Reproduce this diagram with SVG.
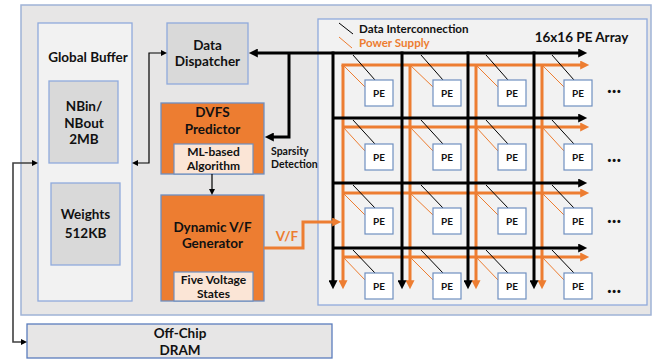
<svg xmlns="http://www.w3.org/2000/svg" width="657" height="360" viewBox="0 0 657 360">
  <style>
    text { font-family: Lato, "Liberation Sans", sans-serif; font-weight: 700; fill: #111; text-anchor: middle; }
    .t13 { font-size: 13.5px; }
    .t11 { font-size: 12px; }
    .t10 { font-size: 10.5px; }
    .leg { font-size: 11.6px; }
    .pe-t { font-size: 10px; }
    .dots { font-size: 20px; }
    .orange-t { fill: #ed7d31; }
    .left { text-anchor: start; }
    .box-frame { fill: #e7e6e6; stroke: #9fb3d6; stroke-width: 1.5; }
    .box-light { fill: #f2f2f2; stroke: #8faadc; stroke-width: 1.3; }
    .box-gray { fill: #d9d9d9; stroke: #8faadc; stroke-width: 1.3; }
    .box-orange { fill: #ed7d31; stroke: #6f8fc0; stroke-width: 1.3; }
    .box-peach { fill: #fbe5d6; stroke: #6f8fc0; stroke-width: 1.2; }
    .box-pe { fill: #ffffff; stroke: #6f8fc0; stroke-width: 1.2; }
    .box-dram { fill: #e7e6e6; stroke: #5b7dbd; stroke-width: 1.3; }
    .bus-k { fill: none; stroke: #000; stroke-width: 3; }
    .bus-o { fill: none; stroke: #ed7d31; stroke-width: 3; }
    .thin-k { fill: none; stroke: #000; stroke-width: 1.2; }
    .thin-g { fill: none; stroke: #404040; stroke-width: 1.6; }
    .tap-k { stroke: #000; stroke-width: 1; }
    .tap-o { stroke: #ed7d31; stroke-width: 1; }
  </style>
  <defs>
    <marker id="ah-k" viewBox="0 0 10 10" markerWidth="10" markerHeight="9" refX="2" refY="5" orient="auto-start-reverse" markerUnits="userSpaceOnUse">
      <path d="M0,0 L10,5 L0,10 z" fill="#000"/>
    </marker>
    <marker id="ah-o" viewBox="0 0 10 10" markerWidth="10" markerHeight="9" refX="2" refY="5" orient="auto-start-reverse" markerUnits="userSpaceOnUse">
      <path d="M0,0 L10,5 L0,10 z" fill="#ed7d31"/>
    </marker>
    <marker id="ah-s" viewBox="0 0 6 6" markerWidth="6" markerHeight="6" refX="1" refY="3" orient="auto-start-reverse" markerUnits="userSpaceOnUse">
      <path d="M0,0 L6,3 L0,6 z" fill="#000"/>
    </marker>
  </defs>

  <!-- chip frame -->
  <rect class="box-frame" x="21" y="5" width="630" height="310"/>

  <g id="global-buffer">
    <rect class="box-light" x="38" y="23" width="94" height="278"/>
    <text class="t13" x="88" y="62">Global Buffer</text>
  </g>
  <g id="nbin-nbout">
    <rect class="box-gray" x="49" y="81" width="69" height="82"/>
    <text class="t13" x="84" y="111">NBin/</text>
    <text class="t13" x="84" y="128">NBout</text>
    <text class="t13" x="84" y="144">2MB</text>
  </g>
  <g id="weights">
    <rect class="box-gray" x="51" y="183" width="69" height="82"/>
    <text class="t13" x="85.5" y="219">Weights</text>
    <text class="t13" x="85.5" y="238">512KB</text>
  </g>
  <g id="data-dispatcher">
    <rect class="box-gray" x="167" y="23" width="81" height="61"/>
    <text class="t13" x="207.5" y="50">Data</text>
    <text class="t13" x="207.5" y="66">Dispatcher</text>
  </g>
  <g id="dvfs-predictor">
    <rect class="box-orange" x="161" y="103" width="103" height="71"/>
    <text class="t13" x="212.5" y="117">DVFS</text>
    <text class="t13" x="212.5" y="134">Predictor</text>
    <rect class="box-peach" x="174" y="144" width="79" height="30"/>
    <text class="t11" x="213.5" y="156">ML-based</text>
    <text class="t11" x="213.5" y="170">Algorithm</text>
  </g>
  <g id="vf-generator">
    <rect class="box-orange" x="161" y="195" width="103" height="106"/>
    <text class="t13" x="212.5" y="232">Dynamic V/F</text>
    <text class="t13" x="212.5" y="248">Generator</text>
    <rect class="box-peach" x="174" y="272" width="79" height="29"/>
    <text class="t11" x="213.5" y="284">Five Voltage</text>
    <text class="t11" x="213.5" y="298">States</text>
  </g>
  <g id="dram">
    <rect class="box-dram" x="27" y="324" width="305" height="34"/>
    <text class="t13" x="180" y="338">Off-Chip</text>
    <text class="t13" x="180" y="355">DRAM</text>
  </g>

  <g id="pe-array">
    <rect class="box-light" x="318" y="19" width="329" height="286"/>
    <line class="tap-k" x1="339" y1="23" x2="353" y2="34"/>
    <text class="leg left" x="359" y="33">Data Interconnection</text>
    <line class="tap-o" x1="339" y1="37" x2="352" y2="48"/>
    <text class="leg left orange-t" x="359" y="47">Power Supply</text>
    <text class="t13" x="581.5" y="42">16x16 PE Array</text>
  </g>

  <!-- connectors -->
  <g id="connectors">
    <!-- power rails -->
    <g class="bus-o">
      <line x1="343" y1="65" x2="343" y2="282" marker-end="url(#ah-o)"/>
      <line x1="410" y1="65" x2="410" y2="282" marker-end="url(#ah-o)"/>
      <line x1="476" y1="65" x2="476" y2="282" marker-end="url(#ah-o)"/>
      <line x1="542" y1="65" x2="542" y2="282" marker-end="url(#ah-o)"/>
      <line x1="341.5" y1="65" x2="582" y2="65" marker-end="url(#ah-o)"/>
      <line x1="343" y1="127" x2="582" y2="127" marker-end="url(#ah-o)"/>
      <line x1="343" y1="193" x2="582" y2="193" marker-end="url(#ah-o)"/>
      <line x1="343" y1="257" x2="582" y2="257" marker-end="url(#ah-o)"/>
    </g>
    <!-- data buses -->
    <g class="bus-k">
      <line x1="333" y1="51.5" x2="333" y2="282" marker-end="url(#ah-k)"/>
      <line x1="402" y1="51.5" x2="402" y2="282" marker-end="url(#ah-k)"/>
      <line x1="468" y1="51.5" x2="468" y2="282" marker-end="url(#ah-k)"/>
      <line x1="534" y1="51.5" x2="534" y2="282" marker-end="url(#ah-k)"/>
      <line x1="256" y1="53" x2="580" y2="53" marker-start="url(#ah-k)" marker-end="url(#ah-k)"/>
      <line x1="333" y1="118" x2="580" y2="118" marker-end="url(#ah-k)"/>
      <line x1="333" y1="183" x2="580" y2="183" marker-end="url(#ah-k)"/>
      <line x1="333" y1="248" x2="580" y2="248" marker-end="url(#ah-k)"/>
      <!-- sparsity feedback -->
      <path d="M289,53 L289,137 L272,137" marker-end="url(#ah-k)"/>
    </g>
    <!-- V/F supply -->
    <path class="bus-o" d="M264,248 L303,248 L303,222 L334,222" marker-end="url(#ah-o)"/>
    <text class="t13 orange-t" x="287" y="241">V/F</text>
    <text class="t10 left" x="271" y="155">Sparsity</text>
    <text class="t10 left" x="271" y="168">Detection</text>
    <!-- buffer <-> dispatcher -->
    <path class="thin-k" d="M137,163 L149,163 L149,53 L162,53" marker-start="url(#ah-s)" marker-end="url(#ah-s)"/>
    <!-- predictor -> generator -->
    <line class="thin-k" x1="212" y1="174" x2="212" y2="190" marker-end="url(#ah-s)"/>
    <!-- buffer <-> DRAM -->
    <path class="thin-g" d="M33,163 L13,163 L13,342 L22,342" marker-start="url(#ah-s)" marker-end="url(#ah-s)"/>
  </g>

  <!-- processing elements -->
  <g id="pe-r1c1"><line class="tap-k" x1="353" y1="55" x2="375" y2="80"/><line class="tap-o" x1="343" y1="65" x2="365" y2="87"/><rect class="box-pe" x="365" y="80" width="28" height="26"/><text class="pe-t" x="379" y="96.5">PE</text></g>
  <g id="pe-r1c2"><line class="tap-k" x1="421" y1="55" x2="443" y2="80"/><line class="tap-o" x1="410" y1="65" x2="433" y2="87"/><rect class="box-pe" x="433" y="80" width="28" height="26"/><text class="pe-t" x="447" y="96.5">PE</text></g>
  <g id="pe-r1c3"><line class="tap-k" x1="486" y1="55" x2="508" y2="80"/><line class="tap-o" x1="476" y1="65" x2="498" y2="87"/><rect class="box-pe" x="498" y="80" width="28" height="26"/><text class="pe-t" x="512" y="96.5">PE</text></g>
  <g id="pe-r1c4"><line class="tap-k" x1="552" y1="55" x2="574" y2="80"/><line class="tap-o" x1="542" y1="65" x2="564" y2="87"/><rect class="box-pe" x="564" y="80" width="28" height="26"/><text class="pe-t" x="578" y="96.5">PE</text></g>

  <g id="pe-r2c1"><line class="tap-k" x1="353" y1="120" x2="375" y2="144"/><line class="tap-o" x1="343" y1="127" x2="365" y2="151"/><rect class="box-pe" x="365" y="144" width="28" height="26"/><text class="pe-t" x="379" y="160.5">PE</text></g>
  <g id="pe-r2c2"><line class="tap-k" x1="421" y1="120" x2="443" y2="144"/><line class="tap-o" x1="410" y1="127" x2="433" y2="151"/><rect class="box-pe" x="433" y="144" width="28" height="26"/><text class="pe-t" x="447" y="160.5">PE</text></g>
  <g id="pe-r2c3"><line class="tap-k" x1="486" y1="120" x2="508" y2="144"/><line class="tap-o" x1="476" y1="127" x2="498" y2="151"/><rect class="box-pe" x="498" y="144" width="28" height="26"/><text class="pe-t" x="512" y="160.5">PE</text></g>
  <g id="pe-r2c4"><line class="tap-k" x1="552" y1="120" x2="574" y2="144"/><line class="tap-o" x1="542" y1="127" x2="564" y2="151"/><rect class="box-pe" x="564" y="144" width="28" height="26"/><text class="pe-t" x="578" y="160.5">PE</text></g>

  <g id="pe-r3c1"><line class="tap-k" x1="353" y1="185" x2="375" y2="208"/><line class="tap-o" x1="343" y1="193" x2="365" y2="215"/><rect class="box-pe" x="365" y="208" width="28" height="26"/><text class="pe-t" x="379" y="224.5">PE</text></g>
  <g id="pe-r3c2"><line class="tap-k" x1="421" y1="185" x2="443" y2="208"/><line class="tap-o" x1="410" y1="193" x2="433" y2="215"/><rect class="box-pe" x="433" y="208" width="28" height="26"/><text class="pe-t" x="447" y="224.5">PE</text></g>
  <g id="pe-r3c3"><line class="tap-k" x1="486" y1="185" x2="508" y2="208"/><line class="tap-o" x1="476" y1="193" x2="498" y2="215"/><rect class="box-pe" x="498" y="208" width="28" height="26"/><text class="pe-t" x="512" y="224.5">PE</text></g>
  <g id="pe-r3c4"><line class="tap-k" x1="552" y1="185" x2="574" y2="208"/><line class="tap-o" x1="542" y1="193" x2="564" y2="215"/><rect class="box-pe" x="564" y="208" width="28" height="26"/><text class="pe-t" x="578" y="224.5">PE</text></g>

  <g id="pe-r4c1"><line class="tap-k" x1="353" y1="250" x2="375" y2="273"/><line class="tap-o" x1="343" y1="257" x2="365" y2="280"/><rect class="box-pe" x="365" y="273" width="28" height="26"/><text class="pe-t" x="379" y="289.5">PE</text></g>
  <g id="pe-r4c2"><line class="tap-k" x1="421" y1="250" x2="443" y2="273"/><line class="tap-o" x1="410" y1="257" x2="433" y2="280"/><rect class="box-pe" x="433" y="273" width="28" height="26"/><text class="pe-t" x="447" y="289.5">PE</text></g>
  <g id="pe-r4c3"><line class="tap-k" x1="486" y1="250" x2="508" y2="273"/><line class="tap-o" x1="476" y1="257" x2="498" y2="280"/><rect class="box-pe" x="498" y="273" width="28" height="26"/><text class="pe-t" x="512" y="289.5">PE</text></g>
  <g id="pe-r4c4"><line class="tap-k" x1="552" y1="250" x2="574" y2="273"/><line class="tap-o" x1="542" y1="257" x2="564" y2="280"/><rect class="box-pe" x="564" y="273" width="28" height="26"/><text class="pe-t" x="578" y="289.5">PE</text></g>

  <!-- continuation marks -->
  <g id="ellipsis">
    <text class="dots" x="614" y="93">...</text>
    <text class="dots" x="614" y="162">...</text>
    <text class="dots" x="614" y="223">...</text>
    <text class="dots" x="614" y="293">...</text>
  </g>
</svg>
